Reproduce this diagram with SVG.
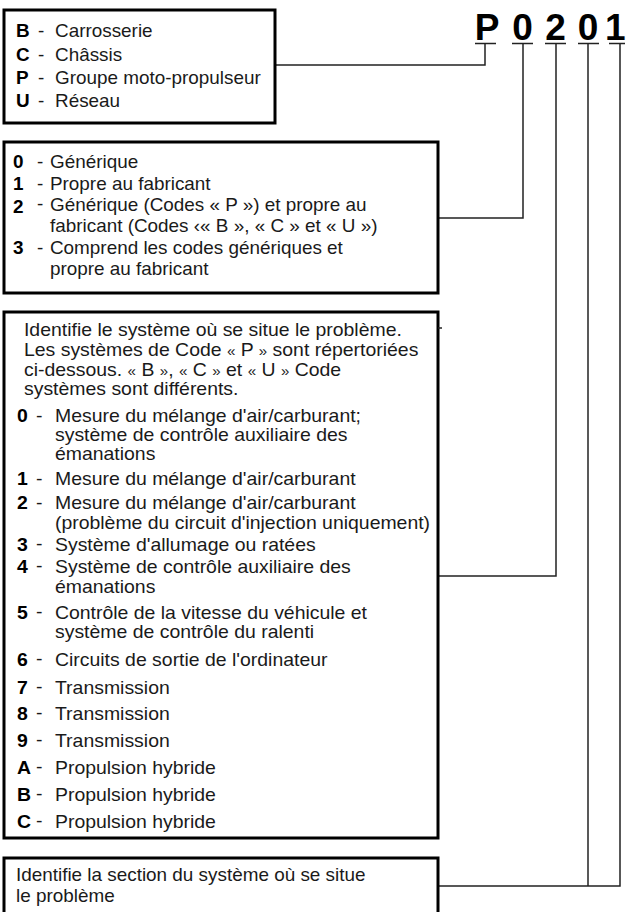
<svg xmlns="http://www.w3.org/2000/svg" width="627" height="912" viewBox="0 0 627 912">
<style>
text{font-family:"Liberation Sans",Arial,Helvetica,sans-serif;font-size:18px;fill:#1a1a1a}
.b{font-weight:bold;fill:#000}
.g{font-size:14px}
.box{fill:#fff;stroke:#000;stroke-width:3}
.ln{fill:none;stroke:#222;stroke-width:1.5}
.code{font-size:37px;font-weight:bold;fill:#000;text-anchor:middle}
</style>
<rect width="627" height="912" fill="#fff"/>

<g id="code">
<text class="code" x="487" y="40">P</text>
<text class="code" x="522.5" y="40">0</text>
<text class="code" x="555.5" y="40">2</text>
<text class="code" x="588" y="40">0</text>
<text class="code" x="605" y="40" style="text-anchor:start">1</text>
<path class="ln" d="M475 43.5H496M512 43.5H533M545 43.5H566M578 43.5H599M609 43.5H625"/>
</g>

<g id="connectors">
<path class="ln" d="M275 65H485V43.5"/>
<path class="ln" d="M438 218H523V43.5"/>
<path class="ln" d="M438 576H556V43.5"/>
<path class="ln" d="M588 43.5V886"/>
<path class="ln" d="M438 886H620V43.5"/>
</g>

<g id="box-type">
<rect class="box" x="4" y="10" width="271" height="113"/>
<g transform="translate(4 0) scale(1.05 1)">
<text class="b" x="11.4" y="37">B</text><text x="32.4" y="37">-</text><text x="48.6" y="37">Carrosserie</text>
<text class="b" x="11.4" y="61">C</text><text x="32.4" y="61">-</text><text x="48.6" y="61">Châssis</text>
<text class="b" x="11.4" y="84">P</text><text x="32.4" y="84">-</text><text x="48.6" y="84">Groupe moto-propulseur</text>
<text class="b" x="11.4" y="107">U</text><text x="32.4" y="107">-</text><text x="48.6" y="107">Réseau</text>
</g>
</g>

<g id="box-origin">
<rect class="box" x="4" y="142" width="434" height="151"/>
<g transform="translate(4 0) scale(1.05 1)">
<text class="b" x="8.6" y="168">0</text><text x="31.4" y="168">-</text><text x="43.8" y="168">Générique</text>
<text class="b" x="8.6" y="190">1</text><text x="31.4" y="190">-</text><text x="43.8" y="190">Propre au fabricant</text>
<text class="b" x="8.6" y="213">2</text><text x="31.4" y="210">-</text><text x="43.8" y="211">Générique (Codes « P ») et propre au</text>
<text x="43.8" y="232">fabricant (Codes ‹« B », « C » et « U »)</text>
<text class="b" x="8.6" y="254">3</text><text x="31.4" y="254">-</text><text x="43.8" y="254">Comprend les codes génériques et</text>
<text x="43.8" y="275">propre au fabricant</text>
</g>
</g>

<g id="box-system">
<rect class="box" x="4" y="312" width="434" height="526"/>
<path class="ln" d="M438 328H442"/>
<g transform="translate(4 0) scale(1.08 1)">
<text x="18.5" y="336">Identifie le système où se situe le problème.</text>
<text x="18.5" y="356">Les systèmes de Code <tspan class="g">«</tspan> P <tspan class="g">»</tspan> sont répertoriées</text>
<text x="18.5" y="376">ci-dessous. <tspan class="g">«</tspan> B <tspan class="g">»</tspan>, <tspan class="g">«</tspan> C <tspan class="g">»</tspan> et <tspan class="g">«</tspan> U <tspan class="g">»</tspan> Code</text>
<text x="18.5" y="395">systèmes sont différents.</text>
<text class="b" x="12" y="422">0</text><text x="29.6" y="422">-</text><text x="47.2" y="422">Mesure du mélange d'air/carburant;</text>
<text x="47.2" y="441">système de contrôle auxiliaire des</text>
<text x="47.2" y="460">émanations</text>
<text class="b" x="12" y="485">1</text><text x="29.6" y="485">-</text><text x="47.2" y="485">Mesure du mélange d'air/carburant</text>
<text class="b" x="12" y="509">2</text><text x="29.6" y="509">-</text><text x="47.2" y="509">Mesure du mélange d'air/carburant</text>
<text x="47.2" y="529">(problème du circuit d'injection uniquement)</text>
<text class="b" x="12" y="551">3</text><text x="29.6" y="550">-</text><text x="47.2" y="551">Système d'allumage ou ratées</text>
<text class="b" x="12" y="573">4</text><text x="29.6" y="572">-</text><text x="47.2" y="573">Système de contrôle auxiliaire des</text>
<text x="47.2" y="593">émanations</text>
<text class="b" x="12" y="619">5</text><text x="29.6" y="618">-</text><text x="47.2" y="619">Contrôle de la vitesse du véhicule et</text>
<text x="47.2" y="638">système de contrôle du ralenti</text>
<text class="b" x="12" y="666">6</text><text x="29.6" y="665">-</text><text x="47.2" y="666">Circuits de sortie de l'ordinateur</text>
<text class="b" x="12" y="694">7</text><text x="29.6" y="693">-</text><text x="47.2" y="694">Transmission</text>
<text class="b" x="12" y="720">8</text><text x="29.6" y="719">-</text><text x="47.2" y="720">Transmission</text>
<text class="b" x="12" y="747">9</text><text x="29.6" y="746">-</text><text x="47.2" y="747">Transmission</text>
<text class="b" x="12" y="774">A</text><text x="29.6" y="773">-</text><text x="47.2" y="774">Propulsion hybride</text>
<text class="b" x="12" y="801">B</text><text x="29.6" y="800">-</text><text x="47.2" y="801">Propulsion hybride</text>
<text class="b" x="12" y="828">C</text><text x="29.6" y="827">-</text><text x="47.2" y="828">Propulsion hybride</text>
</g>
</g>

<g id="box-section">
<rect class="box" x="4" y="858" width="434" height="60"/>
<g transform="translate(4 0) scale(1.05 1)">
<text x="11.4" y="881">Identifie la section du système où se situe</text>
<text x="11.4" y="902">le problème</text>
</g>
</g>
</svg>
